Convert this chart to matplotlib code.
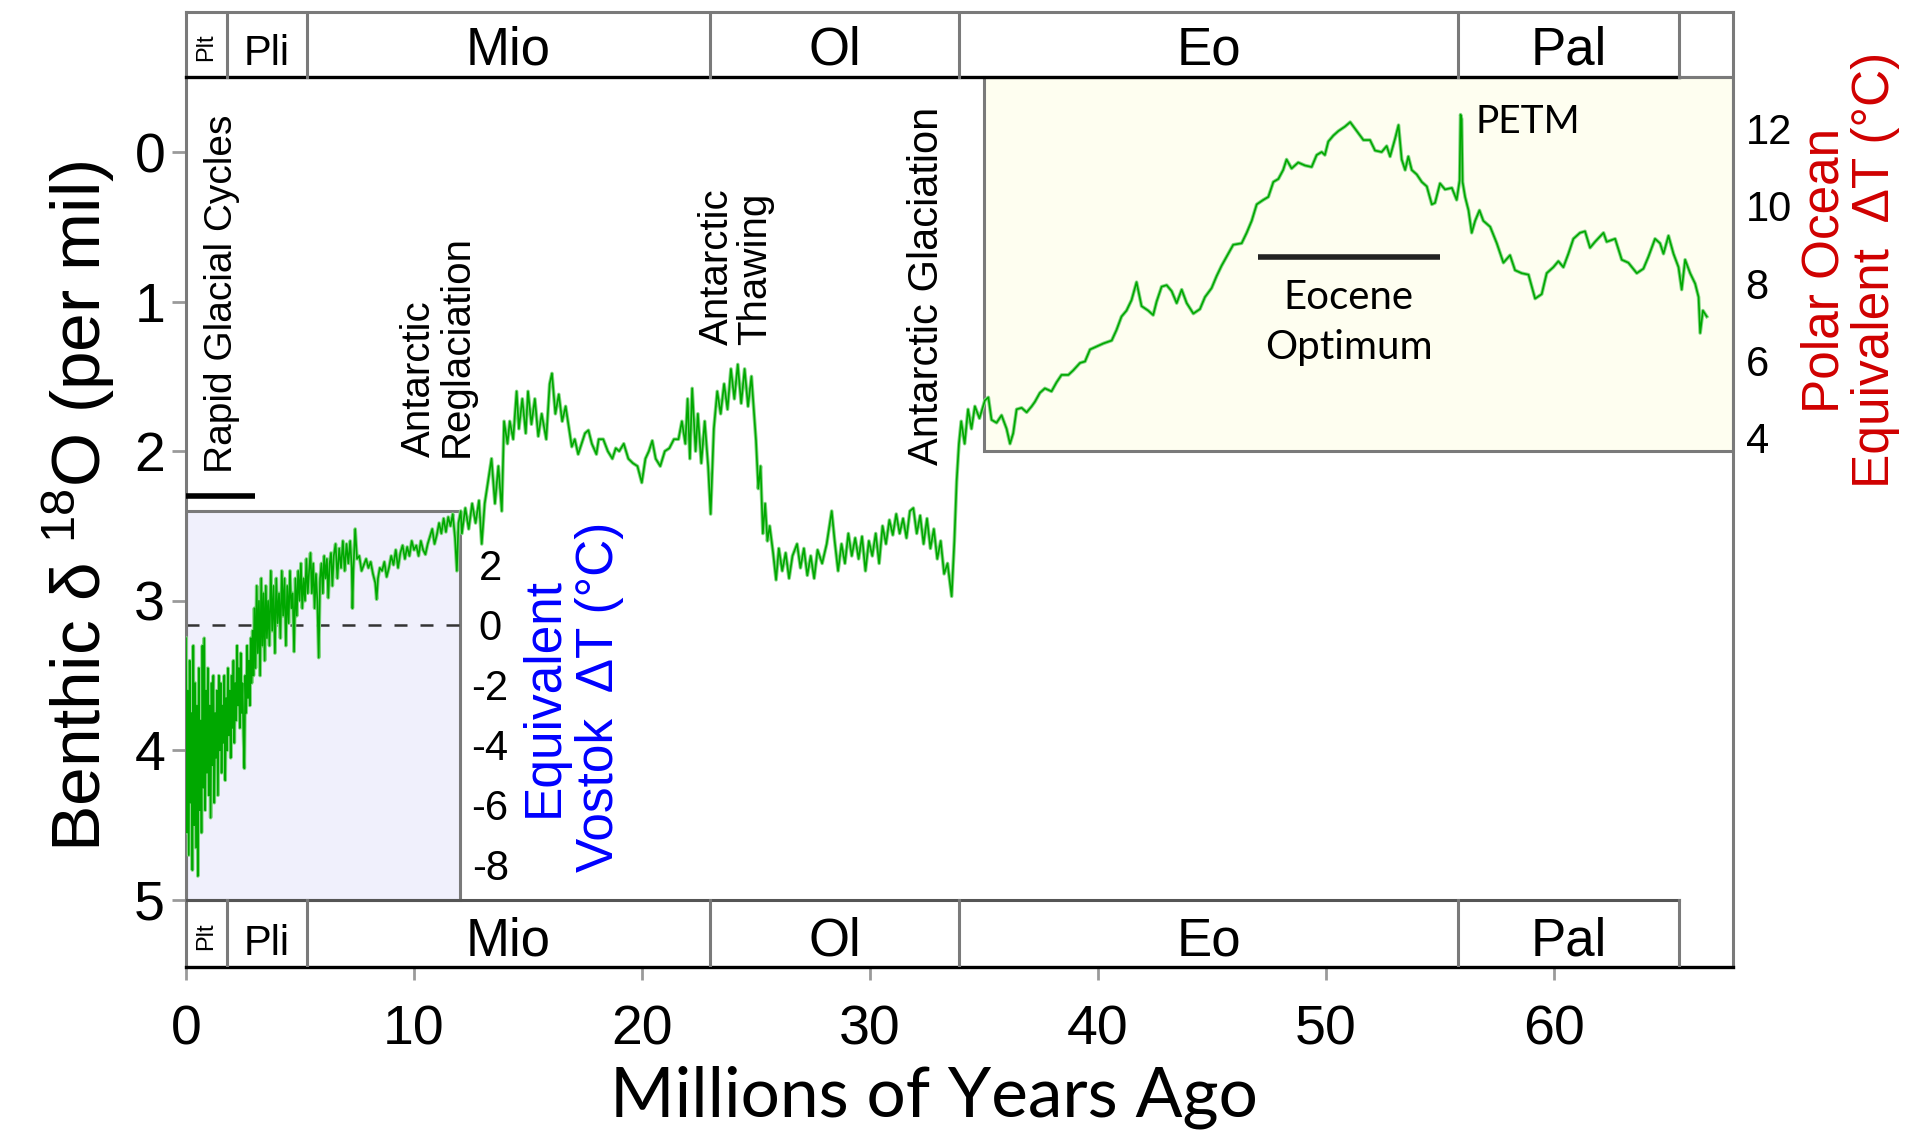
import matplotlib
matplotlib.use('Agg')
import matplotlib.pyplot as plt
from matplotlib.patches import Rectangle

plt.rcParams['font.family'] = ['Liberation Sans', 'DejaVu Sans']
plt.rcParams['axes.unicode_minus'] = False
plt.rcParams['mathtext.fontset'] = 'custom'
plt.rcParams['mathtext.rm'] = 'Liberation Sans'
plt.rcParams['mathtext.it'] = 'Liberation Sans:italic'

# ---------------- data ----------------
age_myr = [
    0.00, 0.04, 0.08, 0.12, 0.16, 0.20, 0.24, 0.28, 0.32, 0.36, 0.40, 0.44, 0.48, 0.52, 0.56, 0.60,
    0.64, 0.68, 0.72, 0.76, 0.80, 0.84, 0.88, 0.92, 0.96, 1.00, 1.04, 1.08, 1.12, 1.16, 1.20, 1.24,
    1.28, 1.32, 1.36, 1.40, 1.44, 1.48, 1.52, 1.56, 1.60, 1.64, 1.68, 1.72, 1.76, 1.80, 1.84, 1.88,
    1.92, 1.96, 2.00, 2.04, 2.08, 2.12, 2.16, 2.20, 2.24, 2.28, 2.32, 2.36, 2.40, 2.44, 2.48, 2.52,
    2.56, 2.60, 2.64, 2.68, 2.72, 2.76, 2.80, 2.84, 2.88, 2.92, 2.96, 3.00, 3.05, 3.10, 3.15, 3.20,
    3.25, 3.30, 3.35, 3.40, 3.45, 3.50, 3.55, 3.60, 3.66, 3.72, 3.78, 3.84, 3.90, 3.96, 4.02, 4.08,
    4.14, 4.20, 4.26, 4.32, 4.38, 4.44, 4.50, 4.56, 4.62, 4.68, 4.74, 4.80, 4.86, 4.92, 4.98, 5.04,
    5.10, 5.16, 5.22, 5.28, 5.34, 5.40, 5.46, 5.52, 5.58, 5.64, 5.70, 5.76, 5.82, 5.88, 5.94, 6.00,
    6.06, 6.12, 6.18, 6.24, 6.30, 6.36, 6.42, 6.48, 6.56, 6.64, 6.72, 6.80, 6.88, 6.96, 7.04, 7.12,
    7.20, 7.27, 7.30, 7.34, 7.42, 7.50, 7.60, 7.70, 7.80, 7.90, 8.00, 8.10, 8.20, 8.30, 8.36, 8.42,
    8.50, 8.60, 8.70, 8.80, 8.90, 9.00, 9.10, 9.20, 9.30, 9.40, 9.50, 9.60, 9.70, 9.80, 9.90, 10.00,
    10.10, 10.20, 10.30, 10.40, 10.50, 10.60, 10.70, 10.80, 10.90, 11.00, 11.10, 11.20, 11.30, 11.40,
    11.50, 11.60, 11.70, 11.80, 11.88, 11.95, 12.05,
    12.10, 12.25, 12.40, 12.55, 12.70, 12.85, 12.97, 13.10, 13.25, 13.40, 13.55, 13.70, 13.85, 13.95,
    14.10, 14.20, 14.35, 14.50, 14.60, 14.75, 14.90, 15.00, 15.15, 15.30, 15.45, 15.60, 15.80, 15.95,
    16.05, 16.20, 16.35, 16.50, 16.65, 16.80, 16.92, 17.05, 17.20, 17.35, 17.50, 17.65, 17.80, 18.00,
    18.10, 18.30, 18.50, 18.70, 18.85, 19.00, 19.20, 19.40, 19.60, 19.80, 19.99, 20.15, 20.30, 20.45,
    20.60, 20.80, 21.00, 21.20, 21.40, 21.60, 21.75, 21.90, 22.00, 22.10, 22.20, 22.35, 22.45, 22.60,
    22.75, 22.90, 23.01, 23.15, 23.30, 23.45, 23.60, 23.75, 23.90, 24.05, 24.20, 24.35, 24.50, 24.65,
    24.80, 24.90, 25.00, 25.10, 25.20, 25.30, 25.40, 25.50, 25.60, 25.75, 25.88, 26.00, 26.15, 26.30,
    26.45, 26.60, 26.80, 26.95, 27.10, 27.25, 27.40, 27.55, 27.70, 27.90, 28.10, 28.32, 28.45, 28.60,
    28.75, 28.90, 29.05, 29.20, 29.35, 29.50, 29.65, 29.80, 29.95, 30.10, 30.25, 30.40, 30.55, 30.70,
    30.85, 31.00, 31.15, 31.30, 31.45, 31.60, 31.75, 31.90, 32.05, 32.20, 32.35, 32.50, 32.65, 32.80,
    32.95, 33.10, 33.25, 33.40, 33.58, 33.70, 33.80, 33.90, 34.00, 34.15, 34.30, 34.45, 34.60, 34.80,
    35.04, 35.19, 35.33, 35.55, 35.77, 35.99, 36.14, 36.28, 36.43, 36.65, 36.87, 37.09, 37.23, 37.45,
    37.67, 37.96, 38.18, 38.40, 38.70, 38.91, 39.21, 39.43, 39.65, 39.94, 40.23, 40.60, 40.81, 41.03,
    41.25, 41.47, 41.69, 41.91, 42.20, 42.42, 42.57, 42.79, 43.01, 43.23, 43.45, 43.67, 43.89, 44.18,
    44.47, 44.69, 44.98, 45.20, 45.42, 45.64, 45.93, 46.30, 46.52, 46.74, 46.96, 47.25, 47.47, 47.69,
    47.91, 48.12, 48.27, 48.49, 48.78, 49.08, 49.37, 49.59, 49.81, 49.95, 50.10, 50.32, 50.54, 50.83,
    51.06, 51.35, 51.64, 51.93, 52.15, 52.44, 52.66, 52.81, 53.03, 53.18, 53.32, 53.47, 53.61, 53.76,
    53.98, 54.20, 54.42, 54.64, 54.78, 55.00, 55.22, 55.52, 55.73, 55.86, 55.90, 55.95, 55.99, 56.10,
    56.25, 56.39, 56.54, 56.73, 56.90, 57.20, 57.49, 57.78, 58.07, 58.29, 58.58, 58.88, 59.17, 59.46,
    59.68, 59.97, 60.19, 60.41, 60.63, 60.85, 61.14, 61.36, 61.58, 61.80, 62.17, 62.31, 62.68, 62.97,
    63.26, 63.63, 63.92, 64.14, 64.43, 64.65, 64.80, 65.02, 65.24, 65.46, 65.60, 65.75, 65.97, 66.19,
    66.34, 66.41, 66.53, 66.70,
]
d18o_permil = [
    3.25, 4.55, 3.60, 4.70, 3.40, 4.35, 3.75, 4.80, 3.30, 4.50, 3.55, 4.65, 3.70, 4.84, 3.45, 4.40,
    3.80, 4.55, 3.30, 4.25, 3.25, 4.40, 3.60, 4.15, 3.45, 4.30, 3.70, 4.45, 3.55, 4.10, 3.50, 4.35,
    3.75, 4.05, 3.60, 4.30, 3.50, 4.00, 3.55, 4.15, 3.70, 3.95, 3.50, 4.20, 3.65, 4.00, 3.45, 3.90,
    3.60, 4.05, 3.50, 3.85, 3.40, 3.95, 3.55, 3.80, 3.30, 3.70, 3.45, 3.85, 3.35, 3.75, 3.55, 3.90,
    4.12, 3.50, 3.75, 3.30, 3.65, 3.40, 3.70, 3.25, 3.55, 3.20, 3.50, 3.05, 3.45, 2.90, 3.35, 3.00,
    3.50, 2.85, 3.30, 2.95, 3.40, 2.90, 3.25, 3.00, 3.30, 2.80, 3.20, 2.90, 3.35, 2.85, 3.15, 2.95,
    3.25, 2.80, 3.10, 2.85, 3.30, 2.90, 3.15, 2.80, 3.05, 2.95, 3.34, 2.85, 3.10, 2.80, 3.00, 2.75,
    3.05, 2.85, 3.00, 2.72, 2.95, 2.80, 2.68, 2.95, 2.75, 3.05, 2.82, 3.00, 3.38, 2.85, 2.75, 2.95,
    2.70, 2.85, 2.72, 2.98, 2.75, 2.68, 2.90, 2.70, 2.62, 2.85, 2.65, 2.78, 2.60, 2.80, 2.62, 2.75,
    2.60, 2.78, 3.05, 2.80, 2.52, 2.72, 2.70, 2.80, 2.76, 2.72, 2.78, 2.74, 2.82, 2.88, 2.99, 2.85,
    2.78, 2.80, 2.74, 2.84, 2.78, 2.70, 2.76, 2.66, 2.78, 2.68, 2.63, 2.72, 2.64, 2.70, 2.60, 2.66,
    2.63, 2.70, 2.60, 2.66, 2.69, 2.62, 2.57, 2.52, 2.62, 2.56, 2.48, 2.55, 2.45, 2.54,
    2.44, 2.50, 2.42, 2.58, 2.80, 2.48, 2.40,
    2.55, 2.38, 2.52, 2.35, 2.48, 2.33, 2.62, 2.35, 2.20, 2.05, 2.35, 2.10, 2.40, 1.80,
    1.95, 1.80, 1.92, 1.60, 1.85, 1.65, 1.88, 1.60, 1.82, 1.65, 1.90, 1.75, 1.92, 1.55,
    1.48, 1.75, 1.62, 1.80, 1.70, 1.85, 1.97, 1.92, 2.02, 1.95, 1.88, 1.86, 1.95, 2.02,
    1.92, 1.92, 2.00, 2.05, 1.98, 2.00, 1.95, 2.05, 2.08, 2.10, 2.21, 2.05, 2.00, 1.93,
    2.05, 2.10, 2.00, 1.98, 1.92, 1.92, 1.80, 1.95, 1.65, 2.05, 1.58, 2.00, 1.75, 2.08,
    1.80, 2.10, 2.42, 1.85, 1.60, 1.75, 1.55, 1.72, 1.45, 1.65, 1.42, 1.68, 1.45, 1.70,
    1.50, 1.72, 1.93, 2.25, 2.10, 2.55, 2.35, 2.60, 2.50, 2.68, 2.86, 2.65, 2.80, 2.68,
    2.85, 2.70, 2.62, 2.78, 2.65, 2.83, 2.70, 2.85, 2.66, 2.75, 2.62, 2.40, 2.60, 2.80,
    2.62, 2.75, 2.55, 2.70, 2.58, 2.72, 2.57, 2.80, 2.60, 2.70, 2.55, 2.75, 2.50, 2.62,
    2.46, 2.56, 2.42, 2.55, 2.45, 2.58, 2.40, 2.38, 2.55, 2.43, 2.62, 2.45, 2.65, 2.52,
    2.72, 2.60, 2.82, 2.75, 2.97, 2.60, 2.20, 1.95, 1.80, 1.95, 1.72, 1.85, 1.70, 1.78,
    1.66, 1.64, 1.79, 1.81, 1.76, 1.85, 1.95, 1.88, 1.72, 1.71, 1.74, 1.70, 1.67, 1.61,
    1.58, 1.60, 1.54, 1.49, 1.49, 1.46, 1.41, 1.40, 1.32, 1.30, 1.28, 1.26, 1.19, 1.10,
    1.06, 0.99, 0.87, 1.03, 1.06, 1.09, 1.00, 0.90, 0.89, 0.93, 1.01, 0.92, 1.01, 1.08,
    1.05, 0.97, 0.91, 0.83, 0.76, 0.70, 0.62, 0.61, 0.54, 0.46, 0.35, 0.32, 0.30, 0.20,
    0.18, 0.12, 0.05, 0.11, 0.07, 0.09, 0.10, 0.02, 0.00, 0.02, -0.07, -0.11, -0.14, -0.17,
    -0.20, -0.14, -0.08, -0.08, -0.01, 0.00, -0.04, 0.03, -0.09, -0.18, 0.05, 0.12, 0.03, 0.12,
    0.15, 0.20, 0.23, 0.35, 0.34, 0.21, 0.25, 0.24, 0.32, 0.19, -0.25, -0.22, 0.20, 0.30,
    0.39, 0.54, 0.46, 0.39, 0.46, 0.50, 0.61, 0.74, 0.69, 0.79, 0.81, 0.82, 0.98, 0.95,
    0.81, 0.77, 0.73, 0.77, 0.68, 0.58, 0.54, 0.53, 0.64, 0.60, 0.54, 0.60, 0.58, 0.72,
    0.74, 0.81, 0.78, 0.70, 0.58, 0.61, 0.68, 0.56, 0.68, 0.77, 0.92, 0.72, 0.81, 0.88,
    0.97, 1.21, 1.06, 1.10,
]

epoch_bounds = [0.0, 1.8, 5.3, 23.0, 33.9, 55.8, 65.5]
epoch_labels = ['Plt', 'Pli', 'Mio', 'Ol', 'Eo', 'Pal']
x_ticks = [0, 10, 20, 30, 40, 50, 60]
d18o_ticks = [0, 1, 2, 3, 4, 5]
vostok_ticks = [2, 0, -2, -4, -6, -8]
polar_ticks = [4, 6, 8, 10, 12]

# ---------------- layout ----------------
W, H = 1907, 1134
fig = plt.figure(figsize=(W / 100, H / 100), dpi=100)
ax = fig.add_axes([186 / W, 1 - 967 / H, (1733 - 186) / W, (967 - 12) / H])

XMAX = 67.85
Y_TOP, BAND_TOP_BOT = -0.936, -0.504
BAND_BOT_TOP, Y_BOT = 5.0, 5.448
ax.set_xlim(0, XMAX)
ax.set_ylim(Y_BOT, Y_TOP)

GRAY = '#7a7a7a'
TICKGRAY = '#9a9a9a'
for s in ['left', 'right', 'top']:
    ax.spines[s].set_color(GRAY)
    ax.spines[s].set_linewidth(2.2)
ax.spines['bottom'].set_color('black')
ax.spines['bottom'].set_linewidth(2.4)

# shaded boxes
ax.add_patch(Rectangle((0, 2.4), 12, BAND_BOT_TOP - 2.4, facecolor='#f0f0fc',
                       edgecolor=GRAY, lw=2.2, zorder=1))
ax.add_patch(Rectangle((35.0, BAND_TOP_BOT), XMAX - 35.0, 2.0 - BAND_TOP_BOT,
                       facecolor='#fefef0', edgecolor=GRAY, lw=2.2, zorder=1))

# epoch bands (top and bottom)
ax.plot([0, epoch_bounds[-1]], [BAND_TOP_BOT] * 2, color='black', lw=2.4, zorder=5, clip_on=False)
ax.plot([epoch_bounds[-1], XMAX], [BAND_TOP_BOT] * 2, color=GRAY, lw=2.2, zorder=5)
ax.plot([0, epoch_bounds[-1]], [BAND_BOT_TOP] * 2, color='#555555', lw=2.2, zorder=5)
for b in epoch_bounds[1:]:
    ax.plot([b, b], [Y_TOP, BAND_TOP_BOT], color=GRAY, lw=2.2, zorder=5)
    ax.plot([b, b], [BAND_BOT_TOP, Y_BOT], color=GRAY, lw=2.2, zorder=5)
for lo, hi, lab in zip(epoch_bounds[:-1], epoch_bounds[1:], epoch_labels):
    xc = (lo + hi) / 2
    for ybase, ymid in [(BAND_TOP_BOT - 0.08, (Y_TOP + BAND_TOP_BOT) / 2),
                        (Y_BOT - 0.08, (BAND_BOT_TOP + Y_BOT) / 2)]:
        if lab == 'Plt':
            ax.text(xc, ymid + 0.02, lab, ha='center', va='center', fontsize=17,
                    rotation=90, zorder=6)
        else:
            ax.text(xc, ybase, lab, ha='center', va='baseline',
                    fontsize=30 if lab == 'Pli' else 38, zorder=6)

# dashed reference line
ax.plot([0, 12], [3.16, 3.16], color='#333333', lw=1.8, dashes=(5.2, 5.2), zorder=2)

# benthic d18O curve
ax.plot(age_myr, d18o_permil, color='#86d686', lw=2.6, zorder=3)
ax.plot(age_myr, d18o_permil, color='#00a800', lw=1.2, zorder=4)

# ticks
ax.set_xticks(x_ticks)
ax.set_yticks(d18o_ticks)
ax.tick_params(axis='y', direction='out', length=10, width=2, color=TICKGRAY,
               labelsize=40, pad=5)
ax.tick_params(axis='x', direction='out', length=9, width=2, color=TICKGRAY,
               labelsize=40, pad=18)

# right: polar ocean equivalent temperature
def d2polar(d):
    return 4 + (1.91 - d) / 0.2585

def polar2d(t):
    return 1.91 - (t - 4) * 0.2585

sp = ax.secondary_yaxis('right', functions=(d2polar, polar2d))
sp.set_ticks(polar_ticks)
sp.tick_params(direction='in', length=10, width=2, color=TICKGRAY, labelsize=30, pad=9)
for s in sp.spines.values():
    s.set_visible(False)

# inner: Vostok equivalent temperature
def d2vost(d):
    return (3.16 - d) / 0.2

def vost2d(t):
    return 3.16 - 0.2 * t

sv = ax.secondary_yaxis(12 / XMAX, functions=(d2vost, vost2d))
sv.set_alignment('right')
sv.set_ticks(vostok_ticks)
sv.tick_params(direction='in', length=10, width=2, color='#666666', labelsize=30, pad=22)
for lab in sv.get_yticklabels():
    lab.set_horizontalalignment('center')
for s in sv.spines.values():
    s.set_visible(False)

# axis titles
ax.text(-4.69, 2.37, r'Benthic δ $^{18}$O (per mil)', rotation=90, ha='center', va='center',
        fontsize=50, clip_on=False)
ax.text(32.8, 6.32, 'Millions of Years Ago', ha='center', va='center', fontsize=50,
        family=['Lato', 'DejaVu Sans'], clip_on=False)
ax.text(72.98, 0.79, 'Polar Ocean\nEquivalent  ΔT (°C)', rotation=90, ha='center', va='center',
        multialignment='center', color='#d00000', fontsize=37, linespacing=1.03, clip_on=False)
ax.text(16.93, 3.64, 'Equivalent\nVostok  ΔT (°C)', rotation=90, ha='center', va='center',
        multialignment='center', color='#0000ff', fontsize=37, linespacing=1.15, zorder=6)

# annotations
ax.text(1.58, 2.145, 'Rapid Glacial Cycles', rotation=90, ha='center', va='bottom', fontsize=28)
ax.plot([0, 3.03], [2.30, 2.30], color='black', lw=4, zorder=5, solid_capstyle='butt')
ax.text(11.05, 2.04, 'Antarctic\nReglaciation', rotation=90, ha='center', va='bottom',
        multialignment='left', fontsize=29, linespacing=1.0)
ax.text(24.12, 1.29, 'Antarctic\nThawing', rotation=90, ha='center', va='bottom',
        multialignment='left', fontsize=29, linespacing=1.0)
ax.text(32.5, 2.09, 'Antarctic Glaciation', rotation=90, ha='center', va='bottom', fontsize=30)
ax.text(56.55, -0.203, 'PETM', ha='left', va='center', fontsize=28,
        family=['Lato', 'DejaVu Sans'])
ax.plot([47.0, 55.0], [0.704, 0.704], color='#222222', lw=4, zorder=5, solid_capstyle='butt')
ax.text(51.0, 1.14, 'Eocene\nOptimum', ha='center', va='center', fontsize=29,
        linespacing=1.42, family=['Lato', 'DejaVu Sans'])

fig.savefig('out.png', dpi=100)
